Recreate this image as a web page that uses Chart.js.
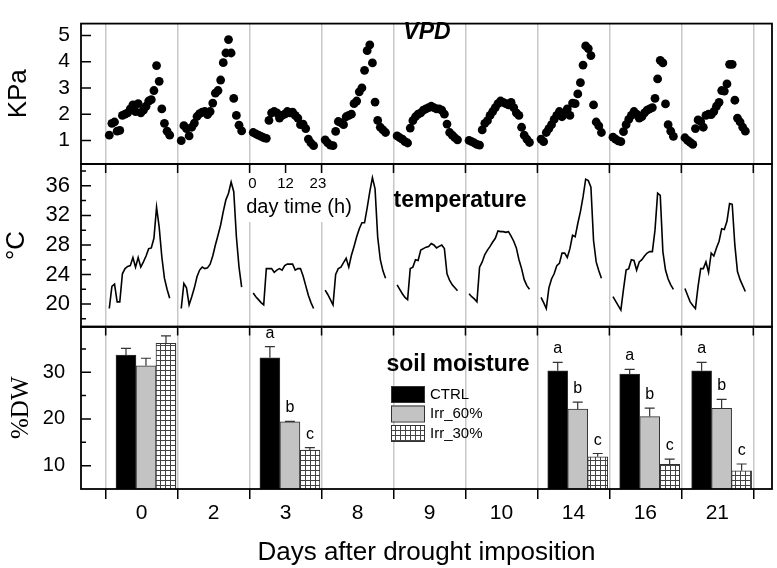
<!DOCTYPE html>
<html><head><meta charset="utf-8">
<script src="https://cdn.jsdelivr.net/npm/chart.js@4.4.1/dist/chart.umd.min.js"></script>
<style>
html,body{margin:0;padding:0;background:#fff;}
#wrap{position:relative;width:777px;height:568px;overflow:hidden;background:#fff;}
#wrap canvas{position:absolute;left:0;top:0;pointer-events:none;}
</style></head><body>
<div id="wrap">
<canvas id="c1" width="777" height="568"></canvas>
<canvas id="c2" width="777" height="568"></canvas>
<canvas id="c3" width="777" height="568"></canvas>
</div>
<script>
// ---------- DATA ----------
const days = ['0','2','3','8','9','10','14','16','21'];
const vpdTicks = [1,2,3,4,5];
const tempTicks = [20,24,28,32,36];
const tempMinorTicks = [18,22,26,30,34,38];
const moistTicks = [10,20,30];
const moistMinorTicks = [15,25,35];
const dayTimeLabels = ['0','12','23'];
const seriesNames = ['CTRL','Irr_60%','Irr_30%'];

// VPD (KPa), hourly 0..23 for each sampled day
const vpd0 = [1.2,1.65,1.7,1.35,1.38,1.95,2.0,2.05,2.2,2.35,2.1,2.4,2.05,2.15,2.3,2.5,2.55,2.9,3.85,3.25,2.2,1.65,1.35,1.2];
const vpd1 = [0.99,1.56,1.45,1.17,1.5,1.66,1.91,2.02,2.08,2.1,1.98,2.1,2.42,2.8,2.9,3.3,3.96,4.33,4.84,4.33,2.6,1.95,1.58,1.36];
const vpd2 = [1.3,1.25,1.2,1.15,1.1,1.08,1.76,2.05,2.1,2.05,1.85,1.95,2.0,2.1,2.05,2.08,1.95,1.85,1.6,1.62,1.45,1.05,0.9,0.8];
const vpd3 = [1.02,0.9,0.82,0.8,1.34,1.72,1.68,1.6,1.9,1.95,2.0,2.4,2.5,2.85,3.0,3.67,4.42,4.64,3.95,2.46,1.76,1.5,1.4,1.3];
const vpd4 = [1.17,1.1,1.05,0.95,0.9,1.47,1.75,1.9,2.0,2.05,2.15,2.2,2.25,2.3,2.25,2.2,2.2,2.15,2.0,1.62,1.3,1.2,1.1,1.02];
const vpd5 = [1.0,0.95,0.9,0.85,0.82,1.4,1.65,1.75,1.95,2.1,2.25,2.4,2.5,2.45,2.4,2.35,2.45,2.25,2.05,1.95,1.5,1.2,1.05,0.92];
const vpd6 = [1.05,0.95,1.3,1.45,1.6,1.8,1.95,2.1,1.9,2.05,2.2,1.95,2.42,2.4,2.77,3.2,3.87,4.6,4.5,4.23,2.35,1.7,1.55,1.3];
const vpd7 = [1.12,1.05,0.98,0.95,1.33,1.6,1.8,1.95,2.1,2.0,1.85,1.9,2.05,2.15,2.2,2.25,2.6,3.34,4.05,3.95,2.39,1.6,1.35,1.15];
const vpd8 = [1.1,1.0,0.92,0.85,1.45,1.78,1.72,1.5,1.95,2.0,1.98,2.1,2.3,2.45,2.9,2.88,3.15,3.9,3.9,2.53,1.85,1.7,1.5,1.35];

// Temperature (°C), hourly
const temp0 = [19.4,22.4,22.7,20.3,20.3,24.1,24.8,25.1,25.2,26.3,25.0,26.3,25.0,25.7,26.5,27.5,27.6,28.9,33.1,30.4,26.4,23.5,22.0,20.8];
const temp1 = [19.4,22.8,22.2,19.9,21.0,22.2,23.7,24.6,25.0,24.8,24.9,25.4,26.5,28.0,29.3,30.7,32.5,34.1,35.0,36.5,35.2,29.1,25.0,22.3];
const temp2 = [21.5,21.0,20.6,20.2,19.9,24.8,24.8,24.8,24.3,24.6,24.8,24.6,25.2,25.4,25.4,25.4,24.6,24.8,24.8,23.8,22.5,21.2,20.2,19.4];
const temp3 = [21.9,21.3,20.6,19.9,24.0,24.8,25.0,25.6,26.2,25.0,26.6,27.8,29.1,30.2,31.0,31.0,33.0,35.2,37.1,35.6,29.1,26.0,24.5,23.5];
const temp4 = [22.6,22.0,21.4,20.9,20.6,24.8,25.0,26.0,25.9,27.3,27.5,27.7,27.8,28.2,28.0,27.6,27.8,28.0,27.5,24.1,23.2,22.6,22.2,21.8];
const temp5 = [21.4,21.0,20.7,20.3,25.0,25.7,26.7,27.3,27.8,28.4,28.9,29.9,29.8,29.8,29.7,29.8,29.2,28.5,27.6,26.0,24.8,23.3,22.5,22.0];
const temp6 = [20.9,20.2,19.4,22.2,23.4,24.1,25.2,25.5,26.9,26.9,26.3,27.5,29.3,29.1,30.9,32.5,34.5,36.9,36.7,35.8,28.6,25.7,24.5,23.5];
const temp7 = [21.0,20.4,19.8,19.2,22.0,24.6,24.8,26.0,25.9,24.6,25.7,26.0,26.5,26.9,27.1,27.1,30.0,35.0,34.7,27.1,24.6,23.4,22.6,22.0];
const temp8 = [22.1,21.2,20.3,19.8,19.4,22.4,24.8,24.8,25.7,24.3,26.9,26.5,27.6,28.5,30.2,30.1,31.2,33.6,33.5,28.0,24.4,23.3,22.5,21.7];

// Soil moisture (%DW), one value per day (null = not measured)
const ctrl     = [33.7,null,33.1,null,null,null,30.3,29.6,30.3];
const ctrlErr  = [1.4, null,2.4, null,null,null,1.8, 1.0, 1.8];
const irr60    = [31.4,null,19.4,null,null,null,22.1,20.5,22.3];
const irr60Err = [1.6, null,0.1, null,null,null,1.5, 1.8, 1.9];
const irr30    = [36.2,null,13.35,null,null,null,11.9,10.3,8.9];
const irr30Err = [1.6, null,0.5, null,null,null,0.7, 1.1, 1.45];
const ctrlLetters  = ['','','a','','','','a','a','a'];
const irr60Letters = ['','','b','','','','b','b','b'];
const irr30Letters = ['','','c','','','','c','c','c'];

// ---------- HELPERS ----------
const FONT = "'Liberation Sans', Arial, Helvetica, sans-serif";
Chart.defaults.font.family = FONT;
Chart.defaults.color = '#000';
const X_MIN = -0.343, X_MAX = 9.26;
const hourX = (d, h) => d + 0.05 + h * 0.0365;
const vpdDays = [vpd0,vpd1,vpd2,vpd3,vpd4,vpd5,vpd6,vpd7,vpd8];
const tempDays = [temp0,temp1,temp2,temp3,temp4,temp5,temp6,temp7,temp8];
const boundaryTicks = () => days.map((d,i)=>({value:i})).concat([{value:days.length}]);

const hatch = (() => {
  const c = document.createElement('canvas'); c.width = 5; c.height = 5;
  const g = c.getContext('2d');
  g.fillStyle = '#fff'; g.fillRect(0,0,5,5);
  g.fillStyle = '#444'; g.fillRect(0,0,5,1); g.fillRect(0,0,1,5);
  return g.createPattern(c, 'repeat');
})();

function baseX(extra) {
  return Object.assign({
    type:'linear', min:X_MIN, max:X_MAX, offset:false,
    afterBuildTicks: s => { s.ticks = boundaryTicks(); },
    ticks:{display:false},
    grid:{color:'#c8c8c8', lineWidth:1.5, drawTicks:false, offset:false},
    border:{display:false},
    afterFit: s => { s.height = 0; }
  }, extra || {});
}
function baseY(min, max, ticks, size, pad, title) {
  return {
    min, max,
    afterBuildTicks: s => { s.ticks = ticks.map(v=>({value:v})); },
    ticks:{font:{size}, color:'#000', padding:pad},
    grid:{display:false, drawTicks:false},
    border:{display:false},
    title: title,
    afterFit: s => { s.width = 81; }
  };
}
function frame(chart, major, minor, topTicks, extraTop) {
  const {ctx, chartArea:a, scales} = chart;
  const y = scales.y, x = scales.x;
  ctx.save();
  ctx.strokeStyle = '#000'; ctx.lineWidth = 1.5;
  ctx.beginPath();
  major.forEach(v => { const p = y.getPixelForValue(v); ctx.moveTo(a.left, p); ctx.lineTo(a.left+10, p); });
  (minor||[]).forEach(v => { const p = y.getPixelForValue(v); ctx.moveTo(a.left, p); ctx.lineTo(a.left+5, p); });
  if (topTicks) {
    const vals = boundaryTicks().map(t=>t.value).concat(extraTop||[]);
    vals.forEach(v => { const p = x.getPixelForValue(v); ctx.moveTo(p, a.top); ctx.lineTo(p, a.top+9); });
  }
  ctx.stroke();
  ctx.lineWidth = 1.8;
  ctx.strokeRect(a.left, a.top, a.right-a.left, a.bottom-a.top);
  ctx.restore();
}
const common = {responsive:false, animation:false, events:[], plugins:{legend:{display:false}, tooltip:{enabled:false}}};

// ---------- PANEL 1 : VPD ----------
new Chart(document.getElementById('c1'), {
  type:'scatter',
  data:{datasets:[{
    data: vpdDays.flatMap((arr,d)=>arr.map((v,h)=>({x:hourX(d,h), y:v}))),
    pointRadius:4.4, backgroundColor:'#000', borderColor:'#000', borderWidth:0, pointHoverRadius:4.4
  }]},
  options:Object.assign({}, common, {
    layout:{padding:{top:2, bottom:404, left:0, right:5}},
    scales:{
      x: baseX(),
      y: baseY(0.1, 5.45, vpdTicks, 21, 11, {display:true, text:'KPa', font:{size:26}, color:'#000', padding:{top:3,bottom:0}})
    }
  }),
  plugins:[{id:'p1', afterDraw(chart){
    frame(chart, vpdTicks, null, false);
    const {ctx} = chart;
    ctx.save();
    ctx.font = "italic bold 23px " + FONT; ctx.fillStyle='#000';
    ctx.textAlign='center'; ctx.textBaseline='middle';
    ctx.fillText('VPD', 427, 33);
    ctx.restore();
  }}]
});

// ---------- PANEL 2 : temperature ----------
new Chart(document.getElementById('c2'), {
  type:'line',
  data:{datasets: tempDays.map((arr,d)=>({
    data: arr.map((v,h)=>({x:hourX(d,h), y:v})),
    borderColor:'#000', borderWidth:1.6, pointRadius:0, tension:0, fill:false
  }))},
  options:Object.assign({}, common, {
    layout:{padding:{top:164, bottom:241, left:0, right:5}},
    scales:{
      x: baseX(),
      y: baseY(16.9, 38.95, tempTicks, 22, 11, {display:true, text:'°C', font:{size:26}, color:'#000', padding:{top:1,bottom:0}})
    }
  }),
  plugins:[{id:'p2', afterDraw(chart){
    const {ctx, scales:{x}} = chart;
    ctx.save();
    ctx.fillStyle = '#fff';
    ctx.fillRect(x.getPixelForValue(1.93), 173, x.getPixelForValue(3.45)-x.getPixelForValue(1.93), 49);
    ctx.restore();
    frame(chart, tempTicks, tempMinorTicks, true, [2.5]);
    ctx.save();
    ctx.fillStyle = '#000'; ctx.textAlign='center'; ctx.textBaseline='middle';
    ctx.font = "15px " + FONT;
    [2.04, 2.5, 2.95].forEach((v,i)=> ctx.fillText(dayTimeLabels[i], x.getPixelForValue(v), 184));
    ctx.font = "20px " + FONT;
    ctx.fillText('day time (h)', 299, 207);
    ctx.font = "bold 23px " + FONT;
    ctx.fillText('temperature', 460, 201);
    ctx.restore();
  }}]
});

// ---------- PANEL 3 : soil moisture ----------
const barX = i => i + 0.56;
const toBars = arr => arr.map((v,i)=>({x:barX(i), y:v})).filter(p=>p.y!==null);
const errSets = [ctrlErr, irr60Err, irr30Err];
const valSets = [ctrl, irr60, irr30];
const letterSets = [ctrlLetters, irr60Letters, irr30Letters];
const fills = ['#000', '#c3c3c3', hatch];

new Chart(document.getElementById('c3'), {
  type:'bar',
  data:{datasets: valSets.map((arr,k)=>({
    label: seriesNames[k],
    data: toBars(arr),
    backgroundColor: fills[k], borderColor:'#333', borderWidth:1,
    barThickness:20, borderSkipped:'start'
  }))},
  options:Object.assign({}, common, {
    layout:{padding:{top:326.5, bottom:0, left:0, right:5}},
    scales:{
      x: {
        type:'linear', min:X_MIN, max:X_MAX, offset:false,
        afterBuildTicks: s => { const t=[]; for(let i=0;i<=days.length*2;i++) t.push({value:i/2}); s.ticks=t; },
        ticks:{autoSkip:false, maxRotation:0, font:{size:21}, color:'#000', padding:2,
          callback: v => Number.isInteger(v) ? '' : days[Math.floor(v)]},
        grid:{offset:false, lineWidth:1.5, tickLength:10, tickWidth:1.5,
          color: c => Number.isInteger(c.tick && c.tick.value) ? '#c8c8c8' : 'rgba(0,0,0,0)',
          tickColor: c => Number.isInteger(c.tick && c.tick.value) ? '#000' : 'rgba(0,0,0,0)'},
        border:{display:false},
        title:{display:true, text:'Days after drought imposition', font:{size:26}, color:'#000', padding:{top:0,bottom:0}},
        afterFit: s => { s.height = 79; }
      },
      y: baseY(5, 39.8, moistTicks, 20, 16, {display:true, text:'%DW', font:{size:25, family:"'Liberation Serif', 'Times New Roman', serif"}, color:'#000', padding:{top:6,bottom:0}})
    }
  }),
  plugins:[{id:'p3', afterDatasetsDraw(chart){
    const {ctx, scales:{y}} = chart;
    ctx.save();
    ctx.strokeStyle = '#333'; ctx.lineWidth = 1.2;
    ctx.fillStyle = '#000'; ctx.font = "16px " + FONT; ctx.textAlign='center'; ctx.textBaseline='alphabetic';
    valSets.forEach((arr,k)=>{
      const meta = chart.getDatasetMeta(k);
      const idx = arr.map((v,i)=>v===null?null:i).filter(i=>i!==null);
      meta.data.forEach((bar,j)=>{
        const i = idx[j];
        const top = y.getPixelForValue(arr[i]);
        const e = y.getPixelForValue(arr[i] + errSets[k][i]);
        ctx.beginPath();
        ctx.moveTo(bar.x, top); ctx.lineTo(bar.x, e);
        ctx.moveTo(bar.x-5, e); ctx.lineTo(bar.x+5, e);
        ctx.stroke();
        if (letterSets[k][i]) ctx.fillText(letterSets[k][i], bar.x, e - 9);
      });
    });
    ctx.restore();
  }, afterDraw(chart){
    frame(chart, moistTicks, moistMinorTicks, true);
    const {ctx} = chart;
    ctx.save();
    ctx.fillStyle='#000'; ctx.textAlign='center'; ctx.textBaseline='middle';
    ctx.font = "bold 23px " + FONT;
    ctx.fillText('soil moisture', 458, 365);
    const lx = 391, ly = [386, 405.5, 425];
    ctx.font = "15px " + FONT; ctx.textAlign='left';
    fills.forEach((f,k)=>{
      ctx.fillStyle = f; ctx.fillRect(lx, ly[k], 33, 16);
      ctx.strokeStyle = '#333'; ctx.lineWidth = 1; ctx.strokeRect(lx+0.5, ly[k]+0.5, 33, 16);
      ctx.fillStyle = '#000'; ctx.fillText(seriesNames[k], lx+39, ly[k]+8.5);
    });
    ctx.restore();
  }}]
});
</script>
</body></html>
